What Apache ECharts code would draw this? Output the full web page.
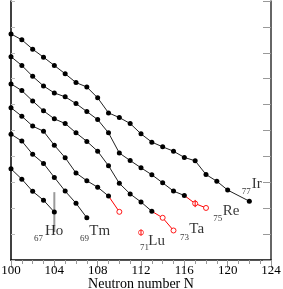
<!DOCTYPE html>
<html>
<head>
<meta charset="utf-8">
<script src="https://cdn.jsdelivr.net/npm/echarts@6/dist/echarts.min.js"></script>
<style>html,body{margin:0;padding:0;background:#fff}#c{width:283px;height:289px}</style>
</head>
<body>
<div id="c"></div>
<script>
// ---- data (arbitrary vertical units) ----
const irN = [100,101,102,103,104,105,106,107,108,109,110,111,112,113,114,115,116,117,118,119,120,122];
const irV = [8.73,8.50,8.14,7.83,7.51,7.19,6.85,6.68,6.26,5.68,5.50,5.27,4.87,4.55,4.37,4.20,3.96,3.83,3.30,3.04,2.70,2.27];

const reN = [100,101,102,103,104,105,106,107,108,109,110,111,112,113,114,115,116];
const reV = [7.85,7.51,7.09,6.72,6.45,6.30,6.04,5.73,5.42,4.91,4.13,3.84,3.56,3.29,2.98,2.66,2.49];
const reRedN = [117,118];
const reRedV = [2.18,2.01];

const taN = [100,101,102,103,104,105,106,107,108,109,110,111,112,113];
const taV = [6.80,6.54,6.14,5.76,5.45,5.27,4.91,4.58,4.20,3.64,2.96,2.55,2.24,1.88];
const taRedN = [114,115];
const taRedV = [1.63,1.14];

const luN = [100,101,102,103,104,105,106,107,108,109];
const luV = [5.88,5.55,5.17,4.97,4.43,3.95,3.36,3.06,2.81,2.47];
const luRedN = [110];
const luRedV = [1.86];
const luIsoN = [112];
const luIsoV = [1.06];

const tmN = [100,101,102,103,104,105,106,107];
const tmV = [4.86,4.59,4.08,3.73,3.19,2.66,2.19,1.63];

const hoN = [100,101,102,103,104];
const hoV = [3.52,3.12,2.65,2.31,1.85];

// error bars: [N, low, high]
const redErrors = [[117, 2.04, 2.32], [112, 0.94, 1.18]];
const greyErrors = [[104, 1.08, 2.62]];

// x-axis ticks
const xMin = 100, xMax = 124, xStep = 4;

// chain labels: subscript (Z) and element symbol, anchored in data units
const labelEl = ['Ho','Tm','Lu','Ta','Re','Ir'];
const labelZ  = ['67','69','71','73','75','77'];
const labelElN = [103.14,107.23,112.67,116.46,119.54,122.22];
const labelElV = [1.12,1.12,0.73,1.18,1.88,2.95];
const labelZN  = [102.12,106.37,111.91,115.60,118.67,121.30];
const labelZV  = [0.81,0.81,0.46,0.88,1.59,2.65];
const xTitle = 'Neutron number N';

// ---- build ----
const zip = (a, b) => a.map((x, i) => [x, b[i]]);
const FONT = '"Liberation Serif","Times New Roman",serif';

function blackChain(n, v) {
  return {
    type: 'line', data: zip(n, v), z: 4,
    symbol: 'circle', symbolSize: 5,
    itemStyle: { color: '#000' },
    lineStyle: { color: '#222', width: 1 },
    silent: true
  };
}
const redItem = { color: '#fff', borderColor: '#ff0000', borderWidth: 0.9 };
function redChain(n, v, rn, rv) {
  const d = [{ value: [n[n.length - 1], v[v.length - 1]], symbol: 'none' }]
    .concat(zip(rn, rv).map(p => ({ value: p })));
  return {
    type: 'line', data: d, z: 3,
    symbol: 'circle', symbolSize: 5,
    itemStyle: redItem,
    emphasis: { disabled: true },
    lineStyle: { color: '#ff0000', width: 1 },
    silent: true
  };
}
function errSeries(data, color, width, z) {
  return {
    type: 'custom', data: data, z: z, silent: true,
    renderItem: function (params, api) {
      const p1 = api.coord([api.value(0), api.value(1)]);
      const p2 = api.coord([api.value(0), api.value(2)]);
      return { type: 'line', shape: { x1: p1[0], y1: p1[1], x2: p2[0], y2: p2[1] },
               style: { stroke: color, lineWidth: width } };
    }
  };
}
function labelSeries(n, v, texts, size) {
  return {
    type: 'scatter', symbolSize: 0, z: 6, silent: true,
    data: n.map((x, i) => ({ value: [x, v[i]], name: texts[i] })),
    label: { show: true, position: [0, 0], align: 'left', verticalAlign: 'middle',
             formatter: '{b}', fontFamily: FONT, fontSize: size, color: '#000' }
  };
}

const axisLine = { show: true, lineStyle: { color: '#000', width: 1.5 } };

const option = {
  animation: false,
  backgroundColor: '#fff',
  grid: { left: 11, right: 12, top: 1, bottom: 29, containLabel: false, outerBoundsMode: 'none' },
  xAxis: [
    { type: 'value', min: xMin, max: xMax, interval: xStep, position: 'bottom',
      axisLine: axisLine, axisTick: { show: false }, splitLine: { show: false },
      axisLabel: { fontFamily: FONT, fontSize: 13, color: '#000', margin: 4 },
      name: xTitle, nameLocation: 'middle', nameGap: 17, nameMoveOverlap: false,
      nameTextStyle: { fontFamily: FONT, fontSize: 14, color: '#000' } },
    { type: 'value', min: xMin, max: xMax, interval: xStep, position: 'top',
      axisLine: { show: true, lineStyle: { color: '#555', width: 1 } },
      axisTick: { show: true, inside: true, length: 8, lineStyle: { color: '#999', width: 1 } },
      minorTick: { show: true, splitNumber: 4, length: 4, lineStyle: { color: '#999', width: 1 } },
      axisLabel: { show: false }, splitLine: { show: false } }
  ],
  yAxis: [
    { type: 'value', min: 0, max: 10, interval: 1, position: 'left',
      axisLine: axisLine,
      axisTick: { show: true, inside: true, length: 4, lineStyle: { color: '#bbb', width: 1 } },
      axisLabel: { show: false }, splitLine: { show: false } },
    { type: 'value', min: 0, max: 10, interval: 1, position: 'right',
      axisLine: { show: true, lineStyle: { color: '#333', width: 1.5 } },
      axisTick: { show: true, inside: true, length: 8, lineStyle: { color: '#999', width: 1 } },
      axisLabel: { show: false }, splitLine: { show: false } }
  ],
  series: [
    errSeries(greyErrors, '#9a9a9a', 2, 2),
    errSeries(redErrors, '#ff0000', 1, 5),
    blackChain(irN, irV),
    blackChain(reN, reV), redChain(reN, reV, reRedN, reRedV),
    blackChain(taN, taV), redChain(taN, taV, taRedN, taRedV),
    blackChain(luN, luV), redChain(luN, luV, luRedN, luRedV),
    blackChain(tmN, tmV),
    blackChain(hoN, hoV),
    { type: 'scatter', data: zip(luIsoN, luIsoV), symbol: 'circle', symbolSize: 5, z: 3,
      itemStyle: redItem, silent: true },
    labelSeries(labelElN, labelElV, labelEl, 15),
    labelSeries(labelZN, labelZV, labelZ, 9)
  ]
};

const chart = echarts.init(document.getElementById('c'), null, { renderer: 'canvas' });
chart.setOption(option);
</script>
</body>
</html>
